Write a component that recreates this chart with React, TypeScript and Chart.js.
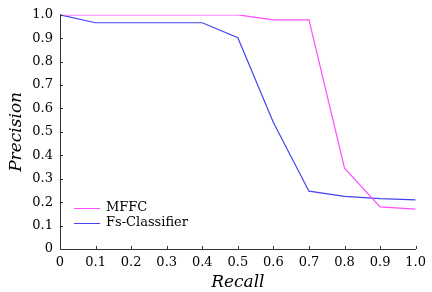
import React, { useEffect, useRef } from "react";
import { Chart, registerables } from "chart.js";
Chart.register(...registerables);

const recall = [0, 0.1, 0.2, 0.3, 0.4, 0.5, 0.6, 0.7, 0.8, 0.9, 1.0];
const mffc = [1.0, 1.0, 1.0, 1.0, 1.0, 1.0, 0.978, 0.978, 0.345, 0.18, 0.17];
const fsClassifier = [1.0, 0.966, 0.966, 0.966, 0.966, 0.902, 0.54, 0.247, 0.225, 0.215, 0.21];
const seriesNames = ["MFFC", "Fs-Classifier"];
const seriesColors = ["#ff4dff", "#4444f0"];
const tickValues = [0, 0.1, 0.2, 0.3, 0.4, 0.5, 0.6, 0.7, 0.8, 0.9, 1.0];

const FONT = "'DejaVu Serif', serif";

const fmt = (v: number) => (Math.abs(v) < 1e-9 ? "0" : v.toFixed(1));

const innerTicks = {
  id: "innerTicks",
  afterDraw(chart: any) {
    const { ctx, chartArea, scales } = chart;
    ctx.save();
    ctx.strokeStyle = "#333";
    ctx.lineWidth = 1;
    for (const v of tickValues) {
      const x = Math.round(scales.x.getPixelForValue(v)) + 0.5;
      ctx.beginPath();
      ctx.moveTo(x, chartArea.bottom);
      ctx.lineTo(x, chartArea.bottom - 3);
      ctx.stroke();
      const y = Math.round(scales.y.getPixelForValue(v)) + 0.5;
      ctx.beginPath();
      ctx.moveTo(chartArea.left, y);
      ctx.lineTo(chartArea.left + 3, y);
      ctx.stroke();
    }
    // legend
    const lx = chartArea.left + 14;
    const ly = [208, 223];
    ctx.font = "13px " + FONT;
    ctx.textBaseline = "middle";
    ctx.fillStyle = "#000";
    seriesNames.forEach((n, i) => {
      ctx.strokeStyle = seriesColors[i];
      ctx.beginPath();
      ctx.moveTo(lx, ly[i] + 0.5);
      ctx.lineTo(lx + 26, ly[i] + 0.5);
      ctx.stroke();
      ctx.fillText(n, lx + 32, ly[i]);
    });
    ctx.restore();
  },
};

export default function App() {
  const ref = useRef<HTMLCanvasElement>(null);
  useEffect(() => {
    document.body.style.margin = "0";
    const chart = new Chart(ref.current!, {
      type: "line",
      data: {
        datasets: [
          {
            label: seriesNames[0],
            data: recall.map((r, i) => ({ x: r, y: mffc[i] })),
            borderColor: seriesColors[0],
            borderWidth: 1.2,
            pointRadius: 0,
            tension: 0,
          },
          {
            label: seriesNames[1],
            data: recall.map((r, i) => ({ x: r, y: fsClassifier[i] })),
            borderColor: seriesColors[1],
            borderWidth: 1.2,
            pointRadius: 0,
            tension: 0,
          },
        ],
      },
      options: {
        animation: false,
        responsive: false,
        layout: { padding: { top: 14, right: 14, left: 0, bottom: 0 } },
        plugins: { legend: { display: false }, tooltip: { enabled: false } },
        scales: {
          x: {
            type: "linear",
            min: 0,
            max: 1,
            afterBuildTicks: (s: any) => {
              s.ticks = tickValues.map((v) => ({ value: v }));
            },
            afterFit: (s: any) => {
              s.height = 43;
            },
            grid: { display: false, drawTicks: false },
            border: { display: true, color: "#333", width: 1 },
            ticks: {
              color: "#000",
              font: { family: FONT, size: 13 },
              padding: 6,
              maxRotation: 0,
              autoSkip: false,
              callback: (v: any) => fmt(Number(v)),
            },
            title: {
              display: true,
              text: "Recall",
              color: "#000",
              font: { family: FONT, size: 17, style: "italic" },
              padding: { top: 2, bottom: -1 },
            },
          },
          y: {
            type: "linear",
            min: 0,
            max: 1,
            afterBuildTicks: (s: any) => {
              s.ticks = tickValues.map((v) => ({ value: v }));
            },
            afterFit: (s: any) => {
              s.width = 60;
            },
            grid: { display: false, drawTicks: false },
            border: { display: true, color: "#333", width: 1 },
            ticks: {
              color: "#000",
              font: { family: FONT, size: 13 },
              padding: 7,
              autoSkip: false,
              callback: (v: any) => fmt(Number(v)),
            },
            title: {
              display: true,
              text: "Precision",
              color: "#000",
              font: { family: FONT, size: 17, style: "italic" },
              padding: { top: 6, bottom: 0 },
            },
          },
        },
      },
      plugins: [innerTicks],
    });
    return () => chart.destroy();
  }, []);
  return (
    <div style={{ position: "absolute", left: 0, top: 0, width: 432, height: 292, background: "#fff" }}>
      <canvas ref={ref} width={432} height={292} />
    </div>
  );
}
